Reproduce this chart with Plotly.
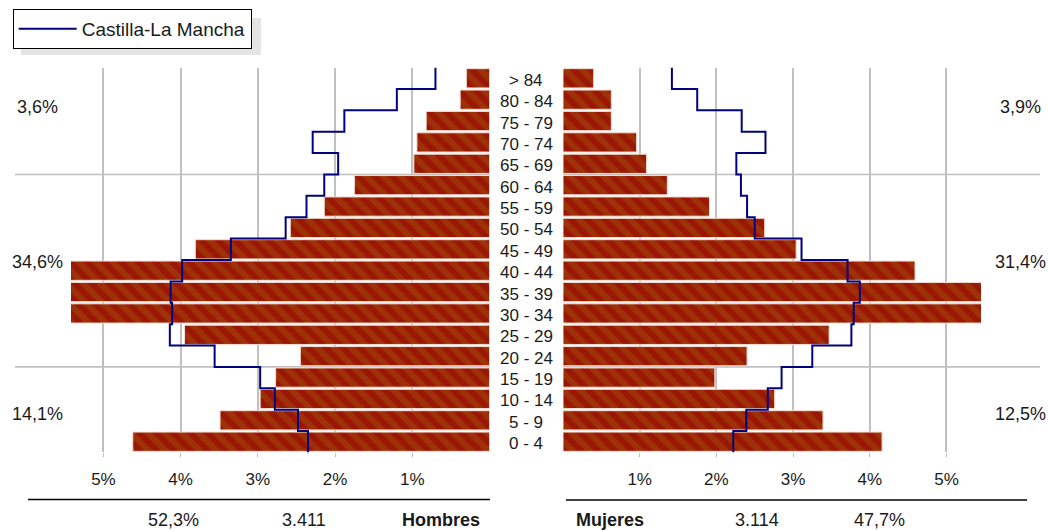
import plotly.graph_objects as go

W, H = 1048, 531

# ---------------- data (bottom row first) ----------------
ages = ["0 - 4", "5 - 9", "10 - 14", "15 - 19", "20 - 24", "25 - 29", "30 - 34",
        "35 - 39", "40 - 44", "45 - 49", "50 - 54", "55 - 59", "60 - 64",
        "65 - 69", "70 - 74", "75 - 79", "80 - 84", "> 84"]

hombres = [4.62, 3.49, 2.97, 2.77, 2.45, 3.95, 5.50, 5.50, 5.50, 3.81,
           2.58, 2.14, 1.75, 0.98, 0.94, 0.82, 0.38, 0.30]
mujeres = [4.16, 3.39, 2.76, 1.98, 2.40, 3.47, 5.50, 5.50, 4.59, 3.04,
           2.63, 1.91, 1.36, 1.09, 0.96, 0.63, 0.63, 0.40]

clm_hombres = [2.35, 2.48, 2.78, 2.97, 3.56, 4.14, 4.11, 4.13, 3.98, 3.35,
               2.64, 2.37, 2.14, 1.96, 2.29, 1.88, 1.20, 0.70]
clm_mujeres = [2.22, 2.39, 2.67, 2.85, 3.25, 3.76, 3.79, 3.87, 3.71, 3.11,
               2.50, 2.40, 2.32, 2.26, 2.64, 2.33, 1.75, 1.42]

tick_vals = [1, 2, 3, 4, 5]
tick_text = ["1%", "2%", "3%", "4%", "5%"]

group_pct_h = ["3,6%", "34,6%", "14,1%"]
group_pct_m = ["3,9%", "31,4%", "12,5%"]
group_split = [12.5, 3.5]          # boundaries between age groups

total_h = ["52,3%", "3.411", "Hombres"]
total_m = ["Mujeres", "3.114", "47,7%"]
series_name = "Castilla-La Mancha"

# ---------------- helpers ----------------
def px_x(p):
    return p / W

def px_y(p):
    return (H - p) / H

FONT = "Arial, Liberation Sans, sans-serif"
TXT = "#1a1a1a"
GRID = "#c0c0c0"

ypos = list(range(len(ages)))

def step(vals):
    xs, ys = [], []
    for i, v in enumerate(vals):
        xs += [v, v]
        ys += [i - 0.5, i + 0.5]
    return xs, ys

bar_marker = dict(
    color="#a3280a",
    line=dict(color="#f3dcd4", width=1),
    pattern=dict(shape="\\", fillmode="replace", bgcolor="#9a1704",
                 fgcolor="#a0420a", fgopacity=0.6, size=12, solidity=0.5),
)

fig = go.Figure()

fig.add_trace(go.Bar(x=hombres, y=ypos, orientation="h", width=0.9,
                     marker=bar_marker, xaxis="x", yaxis="y",
                     showlegend=False, name="Hombres"))
fig.add_trace(go.Bar(x=mujeres, y=ypos, orientation="h", width=0.9,
                     marker=bar_marker, xaxis="x2", yaxis="y2",
                     showlegend=False, name="Mujeres"))

xs, ys = step(clm_hombres)
fig.add_trace(go.Scatter(x=xs, y=ys, mode="lines", xaxis="x", yaxis="y",
                         line=dict(color="#000080", width=2),
                         name=series_name, legendgroup="clm", showlegend=True))
xs, ys = step(clm_mujeres)
fig.add_trace(go.Scatter(x=xs, y=ys, mode="lines", xaxis="x2", yaxis="y2",
                         line=dict(color="#000080", width=2),
                         name=series_name, legendgroup="clm", showlegend=False))

ydom = [px_y(452.4), px_y(67.6)]
common_x = dict(showgrid=True, gridcolor=GRID, gridwidth=1.6, zeroline=False,
                tickvals=tick_vals, ticktext=tick_text, ticks="outside",
                ticklen=4, tickcolor=GRID, tickwidth=1,
                tickfont=dict(family=FONT, size=17, color=TXT),
                showline=False, fixedrange=True, ticklabelstandoff=7)
common_y = dict(range=[-0.5, len(ages) - 0.5], showgrid=False, zeroline=False,
                showticklabels=False, ticks="", domain=ydom, fixedrange=True)

fig.update_layout(
    width=W, height=H,
    margin=dict(l=0, r=0, t=0, b=0),
    paper_bgcolor="white", plot_bgcolor="rgba(0,0,0,0)",
    barmode="overlay",
    font=dict(family=FONT, size=16, color=TXT),
    xaxis=dict(domain=[px_x(71), px_x(489.5)], range=[5.42, 0], anchor="y",
               **common_x),
    xaxis2=dict(domain=[px_x(563), px_x(981)], range=[0, 5.45], anchor="y2",
                **common_x),
    yaxis=dict(anchor="x", **common_y),
    yaxis2=dict(anchor="x2", **common_y),
    showlegend=True,
    legend=dict(x=px_x(12.7), y=px_y(9), xanchor="left", yanchor="top",
                bgcolor="white", bordercolor="black", borderwidth=1,
                font=dict(family=FONT, size=19, color=TXT),
                itemwidth=58),
)

shapes = []
# legend shadow
shapes.append(dict(type="rect", xref="paper", yref="paper",
                   x0=px_x(21), x1=px_x(261), y0=px_y(55), y1=px_y(18),
                   fillcolor="#e4e4e4", line=dict(width=0), layer="below"))
# horizontal group separators
for b in group_split:
    shapes.append(dict(type="line", xref="paper", yref="y", x0=px_x(15),
                       x1=px_x(489.5), y0=b, y1=b,
                       line=dict(color=GRID, width=1.6), layer="below"))
    shapes.append(dict(type="line", xref="paper", yref="y2", x0=px_x(563),
                       x1=px_x(1040), y0=b, y1=b,
                       line=dict(color=GRID, width=1.6), layer="below"))
# bottom rules
shapes.append(dict(type="line", xref="paper", yref="paper", x0=px_x(28),
                   x1=px_x(490), y0=px_y(499.5), y1=px_y(499.5),
                   line=dict(color="black", width=1.6)))
shapes.append(dict(type="line", xref="paper", yref="paper", x0=px_x(566),
                   x1=px_x(1027), y0=px_y(500), y1=px_y(500),
                   line=dict(color="black", width=1.6)))
fig.update_layout(shapes=shapes)

ann = []
# age labels in the middle column
for i, a in enumerate(ages):
    ann.append(dict(x=px_x(526), xref="paper", y=i, yref="y", text=a,
                    showarrow=False, xanchor="center", yanchor="middle",
                    yshift=-2, font=dict(family=FONT, size=17, color=TXT)))
# group percentages
gy = [107, 261.7, 414]
for t, yy in zip(group_pct_h, gy):
    ann.append(dict(x=px_x(37), y=px_y(yy), xref="paper", yref="paper",
                    text=t, showarrow=False, xanchor="center",
                    yanchor="middle", font=dict(family=FONT, size=18, color=TXT)))
for t, yy in zip(group_pct_m, gy):
    ann.append(dict(x=px_x(1020), y=px_y(yy), xref="paper", yref="paper",
                    text=t, showarrow=False, xanchor="center",
                    yanchor="middle", font=dict(family=FONT, size=18, color=TXT)))
# bottom totals
bx_h = [173, 304, 440.5]
bx_m = [610, 757, 879]
for j, (t, xx) in enumerate(zip(total_h, bx_h)):
    txt = "<b>%s</b>" % t if j == 2 else t
    ann.append(dict(x=px_x(xx), y=px_y(520), xref="paper", yref="paper",
                    text=txt, showarrow=False, xanchor="center",
                    yanchor="middle", font=dict(family=FONT, size=18, color=TXT)))
for j, (t, xx) in enumerate(zip(total_m, bx_m)):
    txt = "<b>%s</b>" % t if j == 0 else t
    ann.append(dict(x=px_x(xx), y=px_y(520), xref="paper", yref="paper",
                    text=txt, showarrow=False, xanchor="center",
                    yanchor="middle", font=dict(family=FONT, size=18, color=TXT)))
fig.update_layout(annotations=ann)

fig.write_html("out.html",
               config={"displayModeBar": False},
               post_script="document.body.style.margin='0px';"
                           "document.body.style.overflow='hidden';")
